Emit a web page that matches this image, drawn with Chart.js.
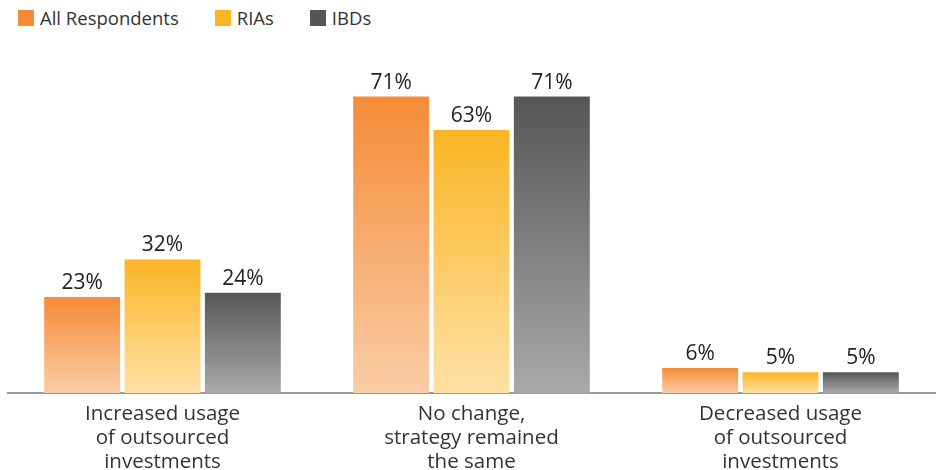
<!DOCTYPE html>
<html>
  <head>
    <meta charset="utf-8">
    <script src="https://cdn.jsdelivr.net/npm/chart.js@4.4.0/dist/chart.umd.min.js"></script>
    <style>
      html, body { margin: 0; padding: 0; background: #fff; overflow: hidden; }
      body { font-family: "Open Sans", sans-serif; }
      #legend { height: 40px; display: flex; align-items: flex-start; padding: 9px 0 0 18px; box-sizing: border-box; }
      #legend .item { display: flex; align-items: center; margin-right: 36px; font-size: 18.5px; color: #333; line-height: 18px; }
      #legend .box { width: 16px; height: 16px; margin-right: 6px; }
      #wrap { width: 941px; height: 435px; }
    </style>
  </head>
  <body>
    <div id="legend"></div>
    <div id="wrap"><canvas id="myChart"></canvas></div>

    <script>
      var categories = [
        ['Increased usage', 'of outsourced', 'investments'],
        ['No change,', 'strategy remained', 'the same'],
        ['Decreased usage', 'of outsourced', 'investments']
      ]
      var seriesNames = ['All Respondents', 'RIAs', 'IBDs']
      var allRespondents = [23, 71, 6]
      var rias = [32, 63, 5]
      var ibds = [24, 71, 5]

      // top colour, bottom colour for each series
      var shades = {
        'All Respondents': ['#f58b36', '#facda7'],
        'RIAs': ['#fbb524', '#fee1a6'],
        'IBDs': ['#545658', '#aaa9aa']
      }

      // legend above the canvas
      var legend = document.getElementById('legend')
      seriesNames.forEach(function (name) {
        var item = document.createElement('div')
        item.className = 'item'
        var box = document.createElement('span')
        box.className = 'box'
        box.style.background = shades[name][0]
        item.appendChild(box)
        item.appendChild(document.createTextNode(name))
        legend.appendChild(item)
      })

      function barFill(ctx) {
        var pair = shades[ctx.dataset.label]
        var chart = ctx.chart
        if (ctx.raw === undefined || !chart.chartArea) return pair[0]
        var y = chart.scales.y
        var top = y.getPixelForValue(ctx.raw)
        var base = y.getPixelForValue(0)
        var g = chart.ctx.createLinearGradient(0, top, 0, base)
        g.addColorStop(0, pair[0])
        g.addColorStop(1, pair[1])
        return g
      }

      var valueLabels = {
        id: 'valueLabels',
        afterDatasetsDraw: function (chart) {
          var c = chart.ctx
          c.save()
          c.font = '21px "Open Sans"'
          c.fillStyle = '#222'
          c.textAlign = 'center'
          c.textBaseline = 'alphabetic'
          chart.data.datasets.forEach(function (ds, i) {
            chart.getDatasetMeta(i).data.forEach(function (bar, j) {
              c.fillText(ds.data[j] + '%', bar.x, bar.y - 8)
            })
          })
          c.restore()
        }
      }

      Chart.defaults.font.family = '"Open Sans", sans-serif'

      var ctx = document.getElementById('myChart').getContext('2d')
      var chart = new Chart(ctx, {
        type: 'bar',
        data: {
          labels: categories,
          datasets: [
            { label: seriesNames[0], data: allRespondents, backgroundColor: barFill },
            { label: seriesNames[1], data: rias, backgroundColor: barFill },
            { label: seriesNames[2], data: ibds, backgroundColor: barFill }
          ]
        },
        options: {
          responsive: true,
          maintainAspectRatio: false,
          animation: false,
          categoryPercentage: 0.78,
          barPercentage: 0.945,
          layout: { padding: { left: 8, right: 6, top: 19, bottom: 0 } },
          plugins: {
            legend: { display: false },
            tooltip: { enabled: false }
          },
          scales: {
            x: {
              grid: { display: false },
              border: { display: true, color: '#999', width: 2 },
              ticks: {
                color: '#333',
                padding: 1,
                font: { size: 20.5, lineHeight: 1.17 },
                maxRotation: 0,
                autoSkip: false
              }
            },
            y: {
              display: false,
              min: 0,
              max: 80
            }
          }
        },
        plugins: [valueLabels]
      })
    </script>
  </body>
</html>
